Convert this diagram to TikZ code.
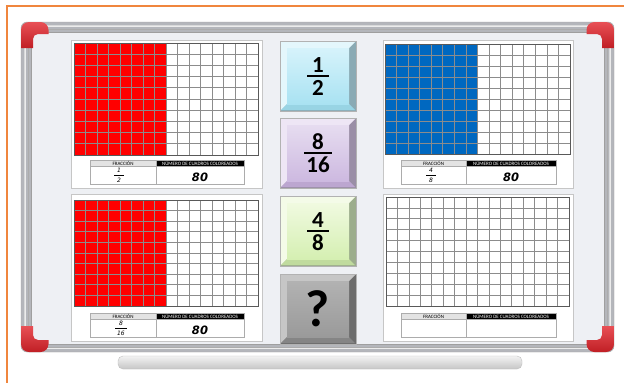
\documentclass[tikz,border=0pt]{standalone}
\usepackage{fontspec}
\setmainfont{Carlito}
\newfontfamily\manual{DejaVu Sans}

\definecolor{naranja}{HTML}{F0863E}
\definecolor{pizarra}{HTML}{EEF0F4}
\definecolor{marco}{HTML}{B4B6BB}
\definecolor{esquina}{HTML}{E2242B}
\definecolor{rojo}{HTML}{FF0000}
\definecolor{azul}{HTML}{0068C0}
\definecolor{rejilla}{HTML}{8C8C8C}
% colores de los botones: A luz, B cara arriba, C cara abajo, D sombra, E borde inferior
\definecolor{celesteA}{HTML}{E4F7FC}
\definecolor{celesteB}{HTML}{D6F3FB}
\definecolor{celesteC}{HTML}{A9E2F2}
\definecolor{celesteD}{HTML}{8AAAB4}
\definecolor{celesteE}{HTML}{98D4E4}
\definecolor{lilaA}{HTML}{EEE6F5}
\definecolor{lilaB}{HTML}{E6DCF0}
\definecolor{lilaC}{HTML}{CDB9E0}
\definecolor{lilaD}{HTML}{9A8EA6}
\definecolor{lilaE}{HTML}{BCA6D0}
\definecolor{verdeA}{HTML}{F4FBE8}
\definecolor{verdeB}{HTML}{F0FAE0}
\definecolor{verdeC}{HTML}{D5EFB2}
\definecolor{verdeD}{HTML}{9CAD8C}
\definecolor{verdeE}{HTML}{C0DB9E}
\definecolor{grisA}{HTML}{C6C6C6}
\definecolor{grisB}{HTML}{B2B2B2}
\definecolor{grisC}{HTML}{9A9A9A}
\definecolor{grisD}{HTML}{6C6C6C}
\definecolor{grisE}{HTML}{858585}

% cuadricula de 16x10: x0 y0 x1 y1 color
\newcommand{\cuadricula}[5]{%
  \fill[white] (#1,#2) rectangle (#3,#4);
  \fill[#5] (#1,#2) rectangle ({(#1+#3)/2},#4);
  \foreach \i in {1,...,15}
    \draw[linea] ({#1+\i*(#3-#1)/16},#2) -- ({#1+\i*(#3-#1)/16},#4);
  \foreach \j in {1,...,9}
    \draw[linea] (#1,{#2+\j*(#4-#2)/10}) -- (#3,{#2+\j*(#4-#2)/10});
  \draw[contorno] (#1,#2) rectangle (#3,#4);
}
% tabla: nombre x0 xm x1 y0
\newcommand{\tabla}[5]{%
  \fill[gray!22] (#2,#5) rectangle (#3,#5+6);
  \fill[black] (#3,#5) rectangle (#4,#5+6);
  \draw[celda] (#2,#5) rectangle (#4,#5+24) (#3,#5) -- (#3,#5+24) (#2,#5+6) -- (#4,#5+6);
  \node[cabecera] (#1-frac) at ({(#2+#3)/2},#5+3.2) {FRACCIÓN};
  \node[cabecera,text=white] (#1-num) at ({(#3+#4)/2},#5+3.2) {NÚMERO DE CUADROS COLOREADOS};
}
% boton: y0 color
\newcommand{\boton}[2]{%
  \filldraw[draw=gray!60,fill=#2D] (280,#1) rectangle (356,#1+70);
  \fill[#2A] (281,#1+1) -- (355,#1+1) -- (349,#1+7) -- (287,#1+7) -- (287,#1+63) -- (281,#1+69) -- cycle;
  \fill[#2E] (281,#1+69) -- (287,#1+63) -- (349,#1+63) -- (355,#1+69) -- cycle;
  \shade[top color=#2B,bottom color=#2C] (287,#1+7) rectangle (349,#1+63);
}

\begin{document}
\begin{tikzpicture}[x=1pt,y=-1pt,
panel/.style={draw=gray!45,fill=white,line width=0.8pt},
linea/.style={draw=rejilla,line width=0.7pt},
contorno/.style={draw=gray!70!black,line width=1pt},
celda/.style={draw=gray!65,line width=0.6pt},
cabecera/.style={font=\fontsize{5}{5}\selectfont,inner sep=0pt},
mano/.style={font=\manual\bfseries\itshape\fontsize{11.5}{11.5}\selectfont,inner sep=0pt},
manof/.style={font=\manual\itshape\fontsize{6}{6}\selectfont,inner sep=0pt},
cifra/.style={font=\fontsize{23}{23}\selectfont\bfseries,inner sep=0pt},
raya/.style={line width=2.4pt}
]
\useasboundingbox (0,0) rectangle (624,383);
\fill[white] (0,0) rectangle (624,383);
\draw[naranja,line width=2pt] (624,6) -- (7,6) -- (7,383);

% pizarra
\shade[top color=gray!10,bottom color=gray!45,draw=gray!50,rounded corners=5] (118,356) rectangle (522,369);
\filldraw[fill=marco,draw=gray!70,rounded corners=6] (21,22) rectangle (614,352);
\draw[gray!15,line width=1.5pt,rounded corners=4] (25,26) rectangle (610,348);
\draw[gray!65,line width=0.8pt] (28,29) rectangle (607,347);
\filldraw[fill=pizarra,draw=gray!75] (31,32) rectangle (604,344);
\foreach \sx/\sy in {1/1,-1/1,1/-1,-1/-1}
  \shade[top color=esquina!80!white,bottom color=esquina!85!black,shift={(317.5,187)},xscale=\sx,yscale=\sy]
    (-296.5,-139) [rounded corners=8] -- (-296.5,-165) -- (-269,-165) [sharp corners] -- (-269,-153)
    [rounded corners=5] -- (-284.5,-153) [sharp corners] -- (-284.5,-139) -- cycle;

% paneles
\filldraw[panel] (71,40) rectangle (262,188);
\filldraw[panel] (71,194) rectangle (262,341);
\filldraw[panel] (383,40) rectangle (573,188);
\filldraw[panel] (383,194) rectangle (573,341);

\cuadricula{74}{43}{258}{155}{rojo}
\cuadricula{74}{200}{258}{306}{rojo}
\cuadricula{385}{44}{570}{154}{azul}
\cuadricula{386}{197}{569}{306}{white}

\tabla{ti}{90}{156}{244}{160}
\tabla{bi}{90}{156}{244}{313}
\tabla{td}{401}{466}{556}{160}
\tabla{bd}{401}{466}{556}{313}

\node[manof] (ti-a) at (119,170.5) {1};
\draw[line width=0.45pt] (114,175.5) -- (124,175.5);
\node[manof] (ti-b) at (119,180.5) {2};
\node[mano] (ti-c) at (200,177) {80};

\node[manof] (bi-a) at (121,323.5) {8};
\draw[line width=0.45pt] (115,328.5) -- (127,328.5);
\node[manof] (bi-b) at (121,333.5) {16};
\node[mano] (bi-c) at (200,330) {80};

\node[manof] (td-a) at (431,170.5) {4};
\draw[line width=0.45pt] (426,175.5) -- (436,175.5);
\node[manof] (td-b) at (431,180.5) {8};
\node[mano] (td-c) at (511,177) {80};

% botones
\boton{41}{celeste}
\boton{118}{lila}
\boton{196}{verde}
\boton{274}{gris}

\node[cifra] (b1-num) at (318,65) {1};
\draw[raya] (307,76) -- (329,76);
\node[cifra] (b1-den) at (318,88) {2};

\node[cifra] (b2-num) at (318,142) {8};
\draw[raya] (304,153) -- (332,153);
\node[cifra] (b2-den) at (318,165) {16};

\node[cifra] (b3-num) at (318,220) {4};
\draw[raya] (307,231) -- (329,231);
\node[cifra] (b3-den) at (318,243) {8};

\node[font=\fontsize{52}{52}\selectfont\bfseries,inner sep=0pt] (b4) at (318,309) {?};
\end{tikzpicture}
\end{document}
